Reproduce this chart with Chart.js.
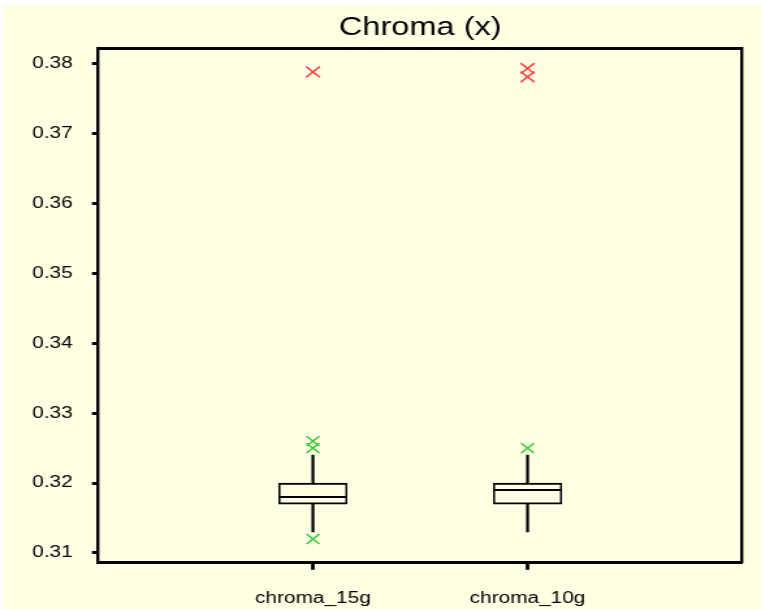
<!DOCTYPE html>
<html>
<head>
<meta charset="utf-8">
<script src="https://cdn.jsdelivr.net/npm/chart.js@4/dist/chart.umd.min.js"></script>
<style>
  html, body { margin: 0; padding: 0; background: #ffffff; overflow: hidden; }
  #bg { position: absolute; left: 3px; top: 4px; width: 758px; height: 605px; background: rgb(255,255,228); }
  #c { position: absolute; left: 0; top: 0; }
</style>
</head>
<body>
<div id="bg"></div>
<!-- drawn at 585 px wide and shown stretched to 761 px -->
<canvas id="c" width="585" height="609" style="width:761px;height:609px;position:absolute;left:0;top:0;"></canvas>
<script>
// Box plot summary for each chroma sample
const categories   = ['chroma_15g', 'chroma_10g'];
const groupX       = [1, 2];
const whiskerLow   = [0.313, 0.313];
const q1           = [0.317, 0.317];
const median       = [0.318, 0.319];
const q3           = [0.320, 0.320];
const whiskerHigh  = [0.324, 0.324];
// outliers (green) and extreme outliers (red)
const nearOutliers = [[0.326, 0.325, 0.312], [0.325]];
const farOutliers  = [[0.3788], [0.3793, 0.3781]];
const yTicks       = [0.31, 0.32, 0.33, 0.34, 0.35, 0.36, 0.37, 0.38];

const FONT = 'Liberation Sans, Arial, sans-serif';
const CREAM = 'rgb(255,255,228)';
const RED = 'rgb(255,64,64)';
const GREEN = 'rgb(51,204,51)';

const pts = (lists) => lists.flatMap((vals, i) => vals.map(v => ({ x: groupX[i], y: v })));

// fixed axis sizes, no automatic label overflow padding
const fixSize = (w, h) => s => {
  if (w !== null) s.width = w;
  if (h !== null) s.height = h;
  s.paddingLeft = s.paddingRight = s.paddingTop = s.paddingBottom = 0;
};

new Chart(document.getElementById('c'), {
  type: 'scatter',
  data: {
    datasets: [
      {
        type: 'bar', label: 'whisker', order: 4, grouped: false,
        data: groupX.map((x, i) => ({ x, y: [whiskerLow[i], whiskerHigh[i]] })),
        backgroundColor: '#000', borderWidth: 0, barThickness: 1.6,
        xAxisID: 'x', yAxisID: 'y'
      },
      {
        type: 'bar', label: 'box', order: 3, grouped: false,
        data: groupX.map((x, i) => ({ x, y: [q1[i], q3[i]] })),
        backgroundColor: CREAM, borderColor: '#000',
        borderWidth: { top: 2, bottom: 2, left: 1.6, right: 1.6 },
        borderSkipped: false, barThickness: 52.5,
        xAxisID: 'x', yAxisID: 'y'
      },
      {
        label: 'median', order: 2,
        data: groupX.map((x, i) => ({ x, y: median[i] })),
        pointStyle: 'line', pointRadius: 25.5, pointHoverRadius: 25.5,
        borderColor: '#000', borderWidth: 2, showLine: false,
        xAxisID: 'x', yAxisID: 'y'
      },
      {
        label: 'outliers', order: 1,
        data: pts(nearOutliers),
        pointStyle: 'crossRot', pointRadius: 7, pointHoverRadius: 7,
        borderColor: GREEN, borderWidth: 1.5, showLine: false,
        xAxisID: 'x', yAxisID: 'y'
      },
      {
        label: 'extreme', order: 0,
        data: pts(farOutliers),
        pointStyle: 'crossRot', pointRadius: 7.5, pointHoverRadius: 7.5,
        borderColor: RED, borderWidth: 1.5, showLine: false,
        xAxisID: 'x', yAxisID: 'y'
      }
    ]
  },
  options: {
    responsive: false,
    devicePixelRatio: 1,
    animation: false,
    events: [],
    layout: { autoPadding: false, padding: { left: 0, right: 14.5, top: 0, bottom: 0 } },
    plugins: {
      legend: { display: false },
      tooltip: { enabled: false },
      title: {
        display: true, text: 'Chroma (x)', color: '#000', fullSize: false,
        font: { family: FONT, size: 25, weight: 'normal' },
        padding: { top: 13, bottom: 5 }
      }
    },
    scales: {
      x: {
        type: 'linear', position: 'bottom', min: 0, max: 3, offset: false,
        afterBuildTicks: s => { s.ticks = groupX.map(v => ({ value: v })); },
        afterFit: fixSize(null, 46.7),
        ticks: {
          callback: v => categories[groupX.indexOf(v)] ?? '',
          color: '#000', font: { family: FONT, size: 16 }, padding: 19,
          maxRotation: 0, autoSkip: false
        },
        grid: {
          display: true, offset: false, drawOnChartArea: false, drawTicks: true,
          tickLength: 7.5, tickColor: '#000', tickWidth: 2.8
        },
        border: { display: true, color: '#000', width: 3 }
      },
      y: {
        type: 'linear', position: 'left', min: 0.30867, max: 0.38222, beginAtZero: false,
        afterBuildTicks: s => { s.ticks = yTicks.map(v => ({ value: v })); },
        afterFit: fixSize(75.6, null),
        ticks: {
          callback: v => Number(v).toFixed(2),
          color: '#000', font: { family: FONT, size: 16 }, padding: 14.8
        },
        grid: {
          display: true, drawOnChartArea: false, drawTicks: true,
          tickLength: 4.9, tickColor: '#000', tickWidth: 3
        },
        border: { display: true, color: '#000', width: 2.4 }
      },
      x2: {
        type: 'linear', position: 'top', min: 0, max: 3,
        afterFit: fixSize(null, 0),
        ticks: { display: false },
        grid: { display: false, drawTicks: false },
        border: { display: true, color: '#000', width: 3 }
      },
      y2: {
        type: 'linear', position: 'right', min: 0.30867, max: 0.38222,
        afterFit: fixSize(0, null),
        ticks: { display: false },
        grid: { display: false, drawTicks: false },
        border: { display: true, color: '#000', width: 2.4 }
      }
    }
  }
});
</script>
</body>
</html>
